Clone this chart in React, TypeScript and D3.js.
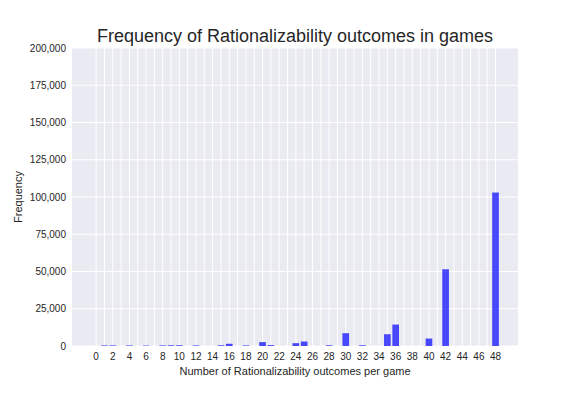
import React, { useEffect, useRef } from "react";
import * as d3 from "d3";

// outcome counts (x) and how many games had them
const outcomes = [1, 2, 4, 6, 8, 9, 10, 12, 15, 16, 18, 20, 21, 24, 25, 28, 30, 32, 35, 36, 40, 42, 48];
const counts = [400, 400, 400, 300, 400, 500, 500, 400, 500, 1500, 400, 2600, 600, 1900, 3000, 500, 8600, 500, 7900, 14400, 5000, 51500, 103000];
const yTicks = [0, 25000, 50000, 75000, 100000, 125000, 150000, 175000, 200000];
const gridX = d3.range(0, 49);

const W = 576;
const H = 396;
const margin = { left: 72, right: 58, top: 48, bottom: 50 };

const App = () => {
  const ref = useRef<SVGSVGElement>(null);

  useEffect(() => {
    const svg = d3.select(ref.current);
    svg.selectAll("*").remove();

    const x = d3.scaleLinear().domain([-2.9, 50.7]).range([margin.left, W - margin.right]);
    const y = d3.scaleLinear().domain([0, 200000]).range([H - margin.bottom, margin.top]);

    // plot background
    svg.append("rect")
      .attr("x", margin.left)
      .attr("y", margin.top)
      .attr("width", W - margin.left - margin.right)
      .attr("height", H - margin.top - margin.bottom)
      .attr("fill", "#eaeaf2");

    // grid
    svg.selectAll(".gx").data(gridX).enter().append("line")
      .attr("x1", d => x(d)).attr("x2", d => x(d))
      .attr("y1", margin.top).attr("y2", H - margin.bottom)
      .attr("stroke", "white").attr("stroke-width", 1);
    svg.selectAll(".gy").data(yTicks).enter().append("line")
      .attr("x1", margin.left).attr("x2", W - margin.right)
      .attr("y1", d => y(d)).attr("y2", d => y(d))
      .attr("stroke", "white").attr("stroke-width", 1);

    // bars
    const bw = x(0.8) - x(0);
    svg.selectAll(".bar").data(outcomes).enter().append("rect")
      .attr("x", d => x(d) - bw / 2)
      .attr("y", (d, i) => y(counts[i]))
      .attr("width", bw)
      .attr("height", (d, i) => y(0) - y(counts[i]))
      .attr("fill", "blue")
      .attr("fill-opacity", 0.7);

    const font = "'Liberation Sans', Arial, sans-serif";

    // y tick labels
    const fmt = d3.format(",");
    svg.selectAll(".yl").data(yTicks).enter().append("text")
      .attr("x", margin.left - 6)
      .attr("y", d => y(d) + 3.5)
      .attr("text-anchor", "end")
      .style("font", `10px ${font}`)
      .attr("fill", "#262626")
      .text(d => fmt(d));

    // x tick labels, every other one
    svg.selectAll(".xl").data(gridX.filter(d => d % 2 === 0)).enter().append("text")
      .attr("x", d => x(d))
      .attr("y", H - margin.bottom + 14)
      .attr("text-anchor", "middle")
      .style("font", `10px ${font}`)
      .attr("fill", "#262626")
      .text(d => d);

    // labels
    svg.append("text")
      .attr("x", (margin.left + W - margin.right) / 2)
      .attr("y", H - margin.bottom + 29)
      .attr("text-anchor", "middle")
      .style("font", `11px ${font}`)
      .attr("fill", "#262626")
      .text("Number of Rationalizability outcomes per game");

    svg.append("text")
      .attr("transform", `translate(22,${(margin.top + H - margin.bottom) / 2}) rotate(-90)`)
      .attr("text-anchor", "middle")
      .style("font", `11px ${font}`)
      .attr("fill", "#262626")
      .text("Frequency");

    svg.append("text")
      .attr("x", (margin.left + W - margin.right) / 2)
      .attr("y", 42)
      .attr("text-anchor", "middle")
      .style("font", `18px ${font}`)
      .attr("fill", "#262626")
      .text("Frequency of Rationalizability outcomes in games");
  }, []);

  return (
    <svg ref={ref} width={W} height={H} style={{ position: "absolute", left: 0, top: 0, background: "white" }} />
  );
};

export default App;
